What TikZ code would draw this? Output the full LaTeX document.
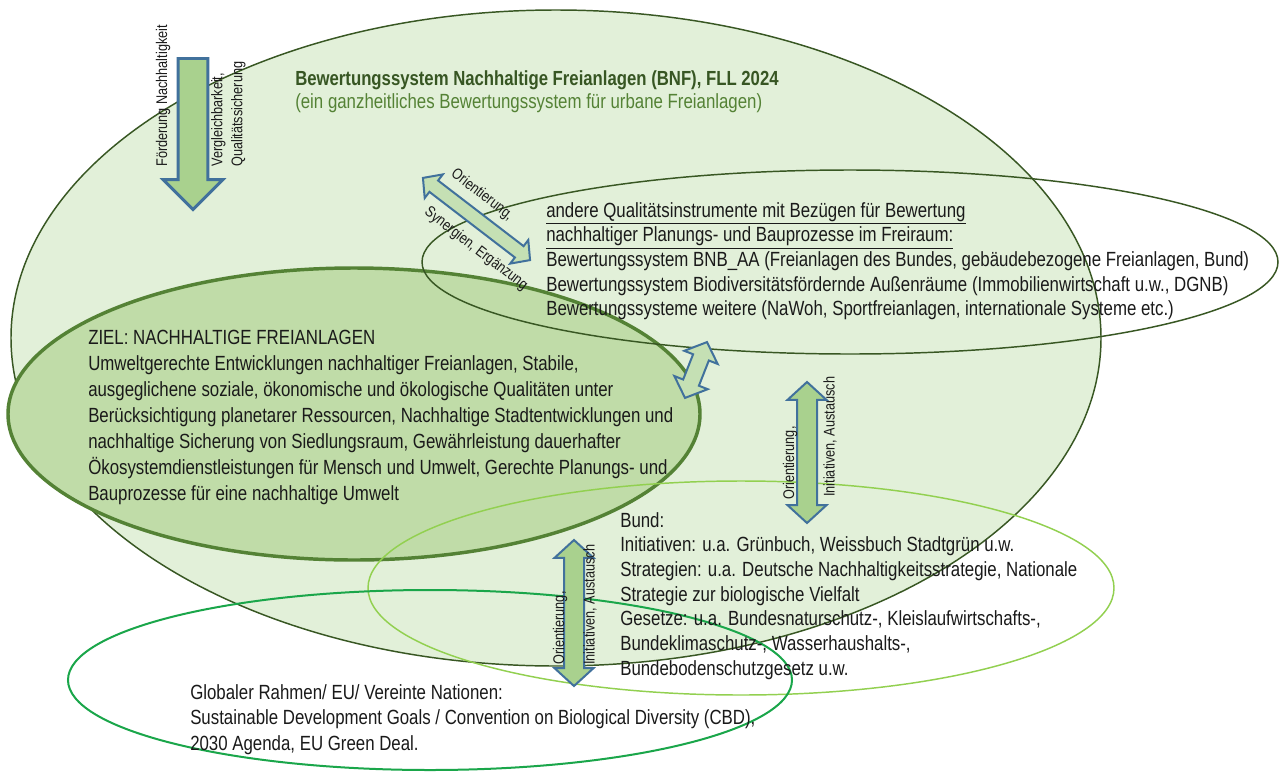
\documentclass[tikz,border=0pt]{standalone}
\usepackage{fontspec}
\setmainfont{Liberation Sans}
\newfontfamily\narrowsf[FakeStretch=0.82]{Liberation Sans}
\usepackage{xcolor}
\usetikzlibrary{shapes.arrows,positioning}

\definecolor{bnffill}{HTML}{E2F0D9}
\definecolor{bnfline}{HTML}{385723}
\definecolor{goalfill}{HTML}{C0DCA8}
\definecolor{goalline}{HTML}{548235}
\definecolor{bundline}{HTML}{92D050}
\definecolor{globline}{HTML}{1AA64A}
\definecolor{arrowfill}{HTML}{A9D18E}
\definecolor{arrowlight}{HTML}{C5E0B4}
\definecolor{arrowline}{HTML}{41719C}
\definecolor{titlegreen}{HTML}{375623}
\definecolor{subgreen}{HTML}{548235}
\definecolor{txt}{HTML}{1A1A1A}

\begin{document}
\begin{tikzpicture}[
  x=0.75pt, y=-0.75pt,
  txtblock/.style={font=\narrowsf\fontsize{15.4}{18.5}\selectfont, text=txt, align=left, anchor=north west, inner sep=0pt},
  lbl/.style={font=\narrowsf\fontsize{11.6}{15}\selectfont, text=txt, inner sep=0pt},
  bigarrow/.style={single arrow, draw=arrowline, fill=arrowfill, line width=2.2pt, inner xsep=0pt, inner ysep=10.1pt,
    single arrow head extend=11.25pt, single arrow tip angle=90, minimum height=113.25pt},
  dblarrow/.style={double arrow, draw=arrowline, line width=1.5pt, inner xsep=0pt, inner ysep=6.75pt,
    double arrow head extend=7.1pt, double arrow tip angle=95},
  ring/.style={line width=1.1pt}
]
  \fill[white] (0,0) rectangle (1282,772);
  \useasboundingbox (0,0) rectangle (1282,772);

  % Ellipses
  \draw[ring, draw=bnfline, fill=bnffill] (556,338) ellipse [x radius=545, y radius=328];
  \draw[line width=2.6pt, draw=goalline, fill=goalfill] (354,414) ellipse [x radius=346, y radius=146];
  \draw[ring, draw=bnfline] (850,262) ellipse [x radius=428, y radius=92];
  \draw[ring, draw=bundline] (741,588) ellipse [x radius=373, y radius=107];
  \draw[line width=1.5pt, draw=globline] (430,680) ellipse [x radius=362, y radius=90];

  % BNF
  \node[txtblock, font=\narrowsf\bfseries\fontsize{15.3}{18}\selectfont, text=titlegreen] (title) at (295,70)
    {Bewertungssystem Nachhaltige Freianlagen (BNF), FLL 2024};
  \node[txtblock, text=subgreen, below=3pt of title.south west, anchor=north west] (subtitle)
    {(ein ganzheitliches Bewertungssystem für urbane Freianlagen)};

  % andere Instrumente
  \node[txtblock] (andere) at (546,202)
    {\underline{andere Qualitätsinstrumente mit Bezügen für Bewertung}\\
     \underline{nachhaltiger Planungs- und Bauprozesse im Freiraum:}\\
     Bewertungssystem BNB\_AA (Freianlagen des Bundes, gebäudebezogene Freianlagen, Bund)\\
     Bewertungssystem Biodiversitätsfördernde Außenräume (Immobilienwirtschaft u.w., DGNB)\\
     Bewertungssysteme weitere (NaWoh, Sportfreianlagen, internationale Systeme etc.)};

  % Ziel
  \node[txtblock, font=\narrowsf\fontsize{15.4}{19.5}\selectfont] (ziel) at (88,330)
    {ZIEL: NACHHALTIGE FREIANLAGEN\\
     Umweltgerechte Entwicklungen nachhaltiger Freianlagen, Stabile,\\
     ausgeglichene soziale, ökonomische und ökologische Qualitäten unter\\
     Berücksichtigung planetarer Ressourcen, Nachhaltige Stadtentwicklungen und\\
     nachhaltige Sicherung von Siedlungsraum, Gewährleistung dauerhafter\\
     Ökosystemdienstleistungen für Mensch und Umwelt, Gerechte Planungs- und\\
     Bauprozesse für eine nachhaltige Umwelt};

  % Bund
  \node[txtblock] (bund) at (620,512)
    {Bund:\\
     Initiativen: u.a. Grünbuch, Weissbuch Stadtgrün u.w.\\
     Strategien: u.a. Deutsche Nachhaltigkeitsstrategie, Nationale\\
     Strategie zur biologische Vielfalt\\
     Gesetze: u.a. Bundesnaturschutz-, Kleislaufwirtschafts-,\\
     Bundeklimaschutz-, Wasserhaushalts-,\\
     Bundebodenschutzgesetz u.w.};

  % Global
  \node[txtblock, font=\narrowsf\fontsize{15.4}{19.1}\selectfont] (global) at (190,684)
    {Globaler Rahmen/ EU/ Vereinte Nationen:\\
     Sustainable Development Goals / Convention on Biological Diversity (CBD),\\
     2030 Agenda, EU Green Deal.};

  % Arrows
  \node[bigarrow, rotate=-90, anchor=tail] (down) at (193,57) {};
  \node[dblarrow, fill=arrowlight, rotate=-37.5, minimum height=101.25pt, inner ysep=4.6pt,
    double arrow head extend=5.8pt] (diag) at (476.5,219) {};
  \node[dblarrow, fill=arrowlight, rotate=68.5, minimum height=45pt, inner ysep=5.6pt] (small) at (696,370) {};
  \node[dblarrow, fill=arrowfill, rotate=90, minimum height=105.75pt] (vright) at (807,452.5) {};
  \node[dblarrow, fill=arrowfill, rotate=90, minimum height=109.5pt] (vleft) at (574,613) {};

  % Arrow labels
  \node[lbl, rotate=90, anchor=west] (foerd) at (163,167) {Förderung Nachhaltigkeit};
  \node[lbl, rotate=90, align=left, anchor=north west] (vergl) at (211,167) {Vergleichbarkeit,\\Qualitätssicherung};
  \node[lbl, rotate=-37.5] (ori1) at (482,195) {Orientierung,};
  \node[lbl, rotate=-37.5] (syn) at (476,249) {Synergien, Ergänzung};
  \node[lbl, rotate=90, anchor=west] (ori2) at (790,500) {Orientierung,};
  \node[lbl, rotate=90, anchor=west] (init2) at (830,497) {Initiativen, Austausch};
  \node[lbl, rotate=90, anchor=west] (ori3) at (560,665) {Orientierung,};
  \node[lbl, rotate=90, anchor=west] (init3) at (590,665) {Initiativen, Austausch};
\end{tikzpicture}
\end{document}
